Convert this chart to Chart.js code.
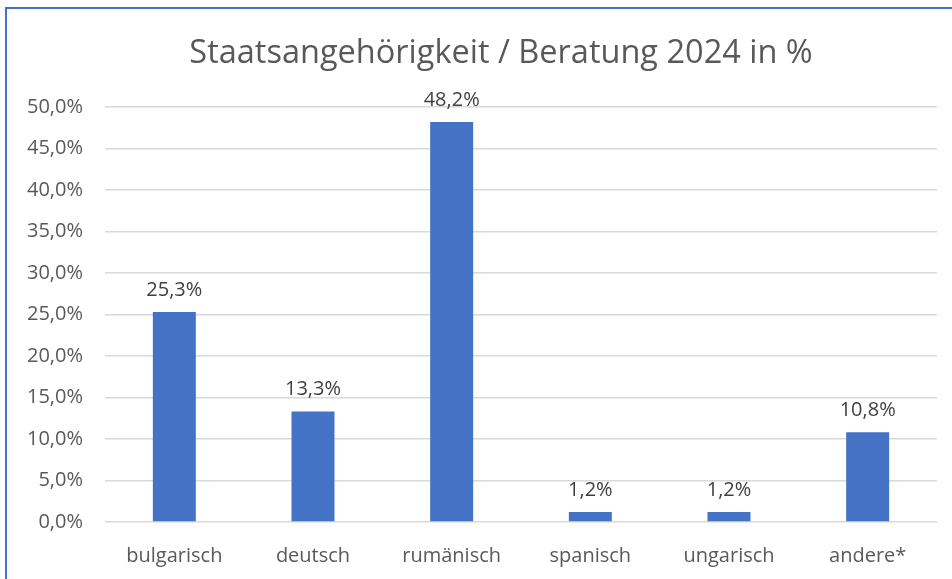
<!DOCTYPE html>
<html>
<head>
<meta charset="utf-8">
<script src="https://cdn.jsdelivr.net/npm/chart.js@4.4.1/dist/chart.umd.min.js"></script>
<style>
  html, body { margin: 0; padding: 0; background: #fff; overflow: hidden; }
  #wrap { position: relative; width: 952px; height: 579px; }
  #frame { position: absolute; left: 5px; top: 7px; width: 1000px; height: 700px; border: 2px solid #4472C4; box-sizing: border-box; }
  canvas { position: absolute; left: 0; top: 0; }
</style>
</head>
<body>
<div id="wrap">
  <div id="frame"></div>
  <canvas id="chart" width="952" height="579"></canvas>
</div>
<script>
const chartTitle = 'Staatsangehörigkeit / Beratung 2024 in %';
const categories = ['bulgarisch', 'deutsch', 'rumänisch', 'spanisch', 'ungarisch', 'andere*'];
const shares = [25.3, 13.3, 48.2, 1.2, 1.2, 10.8];
const fontFamily = '"Open Sans", "Noto Sans", sans-serif';

const fmt = v => v.toFixed(1).replace('.', ',') + '%';

const titlePlugin = {
    id: 'titleText',
    afterDraw(chart) {
        const ctx = chart.ctx;
        ctx.save();
        ctx.font = '32.5px ' + fontFamily;
        ctx.fillStyle = '#595959';
        ctx.textAlign = 'center';
        ctx.textBaseline = 'middle';
        ctx.fillText(chartTitle, 501, 54);
        ctx.restore();
    }
};

const valueLabels = {
    id: 'valueLabels',
    afterDatasetsDraw(chart) {
        const ctx = chart.ctx;
        const meta = chart.getDatasetMeta(0);
        ctx.save();
        ctx.font = '20px ' + fontFamily;
        ctx.fillStyle = '#404040';
        ctx.textAlign = 'center';
        ctx.textBaseline = 'middle';
        meta.data.forEach((bar, i) => {
            ctx.fillText(fmt(shares[i]), bar.x, bar.y - 22);
        });
        ctx.restore();
    }
};

new Chart(document.getElementById('chart'), {
    type: 'bar',
    data: {
        labels: categories,
        datasets: [{
            data: shares,
            backgroundColor: '#4472C4',
            categoryPercentage: 1,
            barPercentage: 0.31
        }]
    },
    options: {
        responsive: false,
        animation: false,
        layout: { padding: { top: 107, right: 15, bottom: 0, left: 0 } },
        plugins: {
            legend: { display: false },
            tooltip: { enabled: false }
        },
        scales: {
            x: {
                grid: { display: false },
                border: { display: false },
                ticks: { color: '#595959', font: { family: fontFamily, size: 20 }, padding: 14 },
                afterFit: s => { s.height = 57; }
            },
            y: {
                min: 0,
                max: 50,
                ticks: {
                    stepSize: 5,
                    color: '#595959',
                    font: { family: fontFamily, size: 20 },
                    padding: 22,
                    callback: v => fmt(v)
                },
                grid: { color: '#d9d9d9', lineWidth: 1.5, drawTicks: false },
                border: { display: false },
                afterFit: s => { s.width = 105; }
            }
        }
    },
    plugins: [titlePlugin, valueLabels]
});
</script>
</body>
</html>
